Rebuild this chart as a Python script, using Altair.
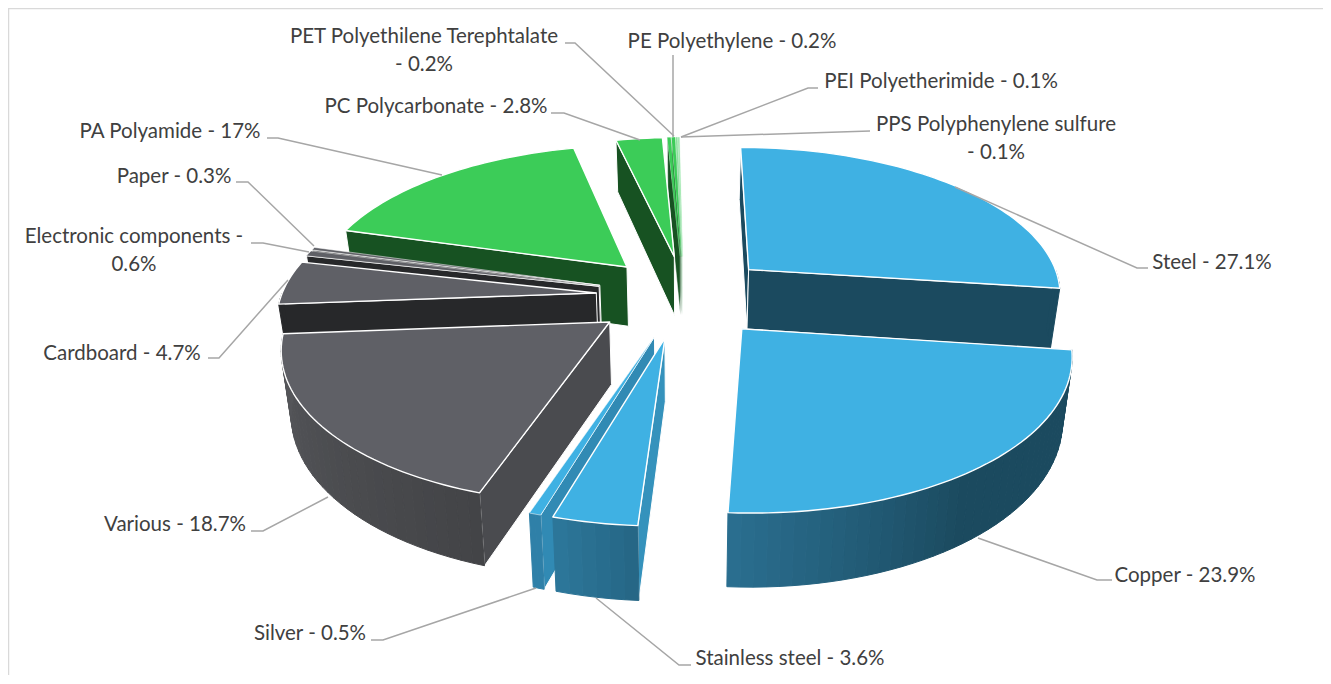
import math
import altair as alt
import pandas as pd

alt.data_transformers.disable_max_rows()

# ---- chart values -------------------------------------------------------
NAMES = ["Steel", "Copper", "Stainless steel", "Silver", "Various", "Cardboard",
         "Electronic components", "Paper", "PA Polyamide", "PC Polycarbonate",
         "PET Polyethilene Terephtalate", "PE Polyethylene", "PEI Polyetherimide",
         "PPS Polyphenylene sulfure"]
VALUES = [27.1, 23.9, 3.6, 0.5, 18.7, 4.7, 0.6, 0.3, 17, 2.8, 0.2, 0.2, 0.1, 0.1]
TOPS = ["#3FB1E3", "#3FB1E3", "#3FB1E3", "#3FB1E3", "#5F6066", "#5F6066", "#5F6066", "#5F6066",
        "#3CCC58", "#3CCC58", "#3CCC58", "#3CCC58", "#8CE29D", "#A5E9B3"]
RADIAL = ["#1B4A5F", "#1B4A5F", "#3592BC", "#318AB4", "#4A4B4F", "#27282A", "#27282A", "#27282A",
          "#175222", "#175222", "#175222", "#175222", "#8CC79A", "#B6DDBF"]
OUTER_L = ["#1B4A5F", "#2A6E8F", "#2C7699", "#2F80A8", "#56575B", "#27282A", "#27282A", "#27282A",
           "#175222", "#175222", "#175222", "#175222", "#175222", "#175222"]
OUTER_R = ["#1B4A5F", "#1B4A5F", "#266786", "#2F80A8", "#434447", "#27282A", "#27282A", "#27282A",
           "#175222", "#175222", "#175222", "#175222", "#175222", "#175222"]
GRAD_START = [0, 0.55, 0, 0, 0, 0, 0, 0, 0, 0, 0, 0, 0, 0]
NUDGE = [0, 0, -3, -2, -3, 0, 0, 0, 2, 2, 0, 0, 0, 0]
# far-to-near painting order
DRAW_ORDER = [13, 12, 11, 10, 9, 8, 0, 7, 6, 5, 4, 3, 2, 1]

LABEL_LINES = [["Steel - 27.1%"], ["Copper - 23.9%"], ["Stainless steel - 3.6%"], ["Silver - 0.5%"],
               ["Various - 18.7%"], ["Cardboard - 4.7%"], ["Electronic components -", "0.6%"],
               ["Paper - 0.3%"], ["PA Polyamide - 17%"], ["PC Polycarbonate - 2.8%"],
               ["PET Polyethilene Terephtalate", "- 0.2%"], ["PE Polyethylene - 0.2%"],
               ["PEI Polyetherimide - 0.1%"], ["PPS Polyphenylene sulfure", "- 0.1%"]]
LABEL_X = [1212, 1185, 790, 310, 175, 122, 134, 174, 170, 436, 424, 732, 941, 996]
LABEL_Y = [263, 576, 659, 634, 525, 354, 237, 177, 132, 107, 37, 42, 82, 125]
LEADERS = [[(1148, 268), (1137, 268), (955, 187)], [(1112, 580), (1097, 580), (978, 538)],
           [(691, 665), (679, 665), (596, 598)], [(371, 640), (383, 640), (536, 588)],
           [(251, 531), (263, 531), (328, 497)], [(208, 358), (219, 358), (288, 280)],
           [(251, 243), (263, 243), (309, 252)], [(236, 182), (248, 182), (314, 246)],
           [(267, 138), (278, 138), (442, 175)], [(551, 113), (564, 113), (640, 140)],
           [(565, 43), (575, 43), (674, 136)], [(673, 55), (673, 137)],
           [(818, 88), (808, 88), (681, 137)], [(870, 131), (681, 137)]]
FRAME = [(8.5, 675), (8.5, 8.5), (1323, 8.5)]

# ---- 3-D view of the pie -------------------------------------------------
CX, CY, KX, KY, PERSP, DEPTH, EXPLODE, BOTTOM = 684, 296, 315, 147, 0.145, 61, 0.28, 0.975


def project(u, v, low=False):
    s = 1 / (1 + PERSP * v)
    x, y = CX + KX * u * s, CY - KY * v * s
    if low:
        x, y = CX + (x - CX) * BOTTOM, y + DEPTH * s
    return x, y


def mix(a, b, t):
    pa = [int(a[i:i + 2], 16) for i in (1, 3, 5)]
    pb = [int(b[i:i + 2], 16) for i in (1, 3, 5)]
    return "#%02X%02X%02X" % tuple(round(p + (q - p) * t) for p, q in zip(pa, pb))


pieces = {}
angle = 0.0
for k, value in enumerate(VALUES):
    a0, a1 = math.radians(angle), math.radians(angle + value * 3.6)
    angle += value * 3.6
    mid = (a0 + a1) / 2
    ox, oy = EXPLODE * math.sin(mid), EXPLODE * math.cos(mid)
    rim = lambda t: (ox + math.sin(t), oy + math.cos(t))
    small = value < 1
    tiny = value <= 0.2
    parts = []

    # radial walls that face the viewer
    ax, ay = project(ox, oy)
    mx, my = project(ox + 0.5 * math.sin(mid), oy + 0.5 * math.cos(mid))
    for t in (a0, a1):
        u, v = rim(t)
        rx, ry = project(u, v)
        if abs(rx - ax) < 1e-6:
            continue
        line_y = ay + (ry - ay) * (mx - ax) / (rx - ax)
        if my < line_y:
            parts.append(([(ox, oy, False), (u, v, False), (u, v, True), (ox, oy, True)],
                          RADIAL[k], "#FFFFFF", 0.5 if tiny else 1.0))

    # outer wall, in thin strips for the shading
    lo, hi = max(a0, math.pi / 2), min(a1, 3 * math.pi / 2)
    if hi > lo:
        n = max(2, int((hi - lo) / math.radians(2)))
        for j in range(n):
            t0, t1 = lo + (hi - lo) * j / n, lo + (hi - lo) * (j + 1) / n
            f = j / max(1, n - 1)
            f = max(0.0, (f - GRAD_START[k]) / (1 - GRAD_START[k]))
            c = mix(OUTER_R[k], OUTER_L[k], f)
            p0, p1 = rim(t0), rim(t1)
            parts.append(([(*p0, False), (*p1, False), (*p1, True), (*p0, True)], c, c, 1.0))

    # top face
    m = max(2, int((a1 - a0) / math.radians(1.5)))
    arc = [rim(a0 + (a1 - a0) * j / m) for j in range(m + 1)]
    parts.append(([(ox, oy, False)] + [(u, v, False) for u, v in arc], TOPS[k],
                  TOPS[k] if tiny else "#FFFFFF", 0.2 if tiny else (0.5 if small else 1.4)))
    pieces[k] = parts

rows = []
pid = 0
for k in DRAW_ORDER:
    for poly, fill, stroke, sw in pieces[k]:
        for i, (u, v, low) in enumerate(poly):
            x, y = project(u, v, low)
            rows.append(dict(id=pid, i=i, x=x + NUDGE[k], y=y, fill=fill, stroke=stroke, sw=sw))
        pid += 1
poly_df = pd.DataFrame(rows)

lead_rows = []
for k, pts in enumerate(LEADERS):
    for i, (x, y) in enumerate(pts):
        lead_rows.append(dict(id=k, i=i, x=x, y=y))
lead_df = pd.DataFrame(lead_rows)
frame_df = pd.DataFrame([dict(i=i, x=x, y=y) for i, (x, y) in enumerate(FRAME)])

text_rows = []
for k, lines in enumerate(LABEL_LINES):
    for j, t in enumerate(lines):
        text_rows.append(dict(t=t, x=LABEL_X[k], y=LABEL_Y[k] + 28 * j))
text_df = pd.DataFrame(text_rows)

X = alt.X("x:Q", scale=alt.Scale(domain=[8, 1323], nice=False, zero=False), axis=None)
Y = alt.Y("y:Q", scale=alt.Scale(domain=[675, 8], nice=False, zero=False), axis=None)

polys = alt.Chart(poly_df).mark_line(filled=True, interpolate="linear-closed", strokeJoin="round").encode(
    x=X, y=Y, detail="id:N", order="i:Q",
    fill=alt.Fill("fill:N", scale=None),
    stroke=alt.Stroke("stroke:N", scale=None),
    strokeWidth=alt.StrokeWidth("sw:Q", scale=None),
)
leaders = alt.Chart(lead_df).mark_line(color="#A6A6A6", strokeWidth=1.5).encode(
    x=X, y=Y, detail="id:N", order="i:Q")
frame = alt.Chart(frame_df).mark_line(color="#D9D9D9", strokeWidth=1.5, clip=True).encode(
    x=X, y=Y, order="i:Q")
texts = alt.Chart(text_df).mark_text(font="Lato", fontSize=20.5, color="#404040", align="center",
                                     baseline="middle").encode(x=X, y=Y, text="t:N")

chart = alt.layer(frame, polys, leaders, texts).properties(
    width=1315, height=667, padding=0, autosize=alt.AutoSizeParams(type="none"),
    background="#FFFFFF").configure_view(stroke=None)
chart.save("out.html", embed_options={"renderer": "svg", "actions": False})
